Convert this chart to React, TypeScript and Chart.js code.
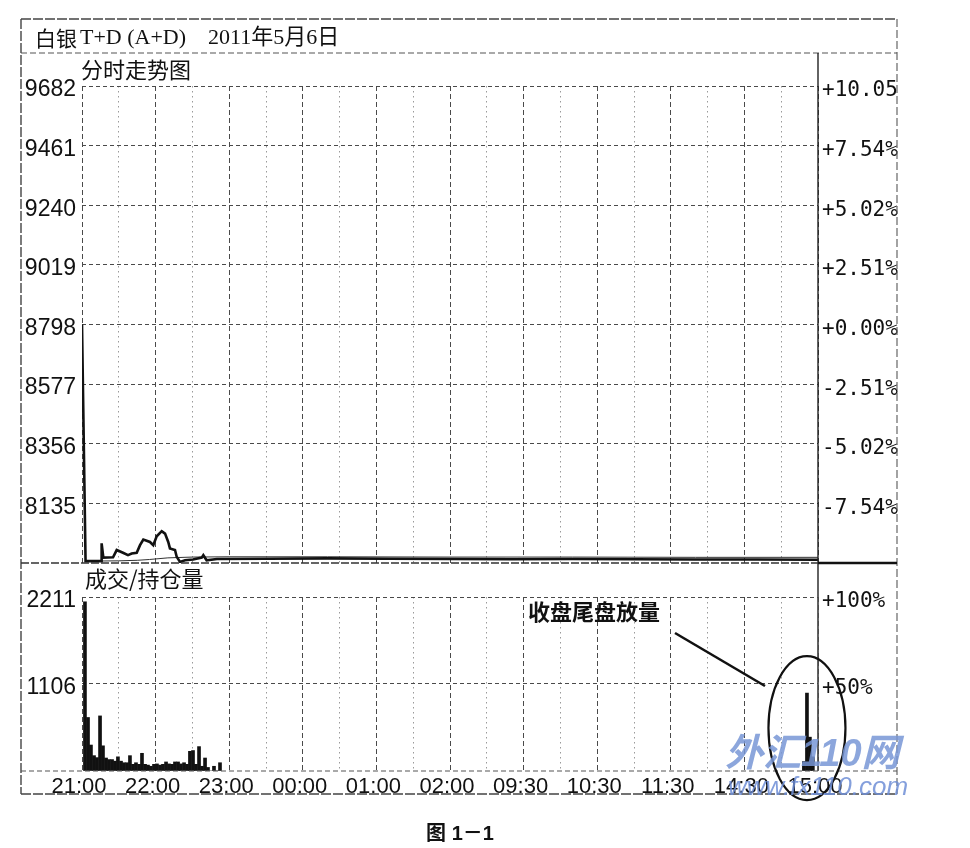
import React, { useEffect, useRef } from "react";
import { Chart, registerables } from "chart.js";

Chart.register(...registerables);

const W = 970;
const H = 848;

// ---------- layout ----------
const PLOT_LEFT = 82;
const PLOT_RIGHT = 818;
const PRICE_TOP = 86;
const PRICE_BOTTOM = 563;
const VOL_TOP = 597;
const VOL_BOTTOM = 771;
const FRAME = { left: 21, top: 19, right: 897, bottom: 794 };
const TITLE_LINE_Y = 53;

// ---------- data ----------
const timeLabels = ["21:00", "22:00", "23:00", "00:00", "01:00", "02:00", "09:30", "10:30", "11:30", "14:30", "15:00"];
const gridMinutes = [0, 30, 60, 90, 120, 150, 180, 210, 240, 270, 300, 330, 360, 390, 420, 450, 480, 510, 540, 570, 600];

const priceTicks = [9682, 9461, 9240, 9019, 8798, 8577, 8356, 8135];
const pctLabels = ["+10.05", "+7.54%", "+5.02%", "+2.51%", "+0.00%", "-2.51%", "-5.02%", "-7.54%"];
const priceAxisMin = 7914;
const priceAxisMax = 9682;

const volTicks = [2211, 1106, 0];
const volPctLabels = ["+100%", "+50%", ""];
const volAxisMax = 2211;

// minutes since 21:00 (session index) and price
const priceMinutes = [0, 2.9, 15.5, 16, 17.4, 25.3, 28.3, 33.4, 37.5, 40.5, 44.6, 47.3, 50, 55.4, 58.1, 60.9, 65, 67.7, 70.3, 71.7, 75.8, 77.2, 79.9, 84, 90.5, 97.6, 98.9, 101.6, 110, 150, 200, 250, 300, 350, 400, 450, 500, 550, 600];
const priceValues = [8798, 7921, 7921, 7987, 7934, 7935, 7962, 7952, 7943, 7949, 7952, 7980, 8001, 7992, 7980, 8013, 8032, 8023, 7992, 7968, 7962, 7937, 7918, 7924, 7927, 7934, 7943, 7924, 7929, 7930, 7931, 7930, 7929, 7928, 7929, 7928, 7927, 7927, 7926];

const avgMinutes = [3, 30, 45, 55, 70, 90, 120, 200, 300, 400, 500, 600];
const avgValues = [7921, 7922, 7924, 7927, 7933, 7936, 7937, 7937, 7936, 7936, 7935, 7935];

const volMinutes = [2.4, 4.9, 7.3, 9.8, 12.2, 14.7, 17.1, 19.6, 22, 24.5, 26.9, 29.3, 31.8, 34.2, 36.7, 39.1, 41.6, 44, 46.5, 48.9, 51.4, 53.8, 56.2, 58.7, 61.1, 63.6, 66, 68.5, 70.9, 73.4, 75.8, 78.3, 80.7, 83.2, 85.6, 88, 90.5, 92.9, 95.4, 97.8, 100.3, 102.7, 105.2, 107.6, 110.1, 112.5, 588.5, 591, 593.4, 595.8];
const volValues = [2150, 680, 330, 195, 170, 700, 320, 165, 145, 145, 125, 180, 125, 105, 105, 195, 85, 105, 85, 225, 85, 75, 60, 85, 90, 75, 85, 115, 90, 85, 115, 115, 90, 105, 85, 250, 260, 85, 310, 60, 165, 45, 0, 60, 0, 105, 120, 990, 430, 180];

// ---------- fonts ----------
const CJK = '"Noto Sans CJK SC"';
const LEFT_FONT = { family: '"Liberation Sans", Arial, sans-serif', size: 23 };
const RIGHT_FONT = { family: '"DejaVu Sans Mono", monospace', size: 21 };
const X_FONT = { family: '"Liberation Sans", Arial, sans-serif', size: 22 };

function seg(ctx: CanvasRenderingContext2D, x1: number, y1: number, x2: number, y2: number, width: number, color: string, dash: number[] = []) {
  ctx.save();
  ctx.beginPath();
  ctx.lineWidth = width;
  ctx.strokeStyle = color;
  ctx.setLineDash(dash);
  ctx.moveTo(x1, y1);
  ctx.lineTo(x2, y2);
  ctx.stroke();
  ctx.restore();
}

function text(ctx: CanvasRenderingContext2D, s: string, x: number, y: number, font: string, align: CanvasTextAlign = "left", color = "#111") {
  ctx.save();
  ctx.font = font;
  ctx.fillStyle = color;
  ctx.textAlign = align;
  ctx.textBaseline = "middle";
  ctx.fillText(s, x, y);
  ctx.restore();
}

const xGridColor = (c: any) => (c.tick && c.tick.value % 60 === 0 ? "#4a4a4a" : "#9a9a9a");
const xGridDash = (c: any) => (c.tick && c.tick.value % 60 === 0 ? [5, 3] : [1.5, 3.5]);

const pricePlugin = {
  id: "priceFrame",
  beforeDraw(chart: any) {
    const ctx = chart.ctx as CanvasRenderingContext2D;
    ctx.save();
    ctx.fillStyle = "#ffffff";
    ctx.fillRect(0, 0, W, H);
    ctx.restore();
  },
  afterDraw(chart: any) {
    const ctx = chart.ctx as CanvasRenderingContext2D;
    const a = chart.chartArea;
    // outer frame
    seg(ctx, FRAME.left, FRAME.top, FRAME.right, FRAME.top, 1.4, "#444", [10, 2]);
    seg(ctx, FRAME.left, FRAME.top, FRAME.left, FRAME.bottom, 1.4, "#444", [10, 2]);
    seg(ctx, FRAME.right, FRAME.top, FRAME.right, FRAME.bottom, 1.2, "#666", [8, 3]);
    seg(ctx, FRAME.left, FRAME.bottom, FRAME.right, FRAME.bottom, 1.4, "#444", [10, 2]);
    // title separator
    seg(ctx, FRAME.left, TITLE_LINE_Y, FRAME.right, TITLE_LINE_Y, 1.2, "#555", [6, 3]);
    // right axis line
    seg(ctx, a.right, TITLE_LINE_Y, a.right, VOL_BOTTOM, 1.4, "#222");
    // panel separator
    seg(ctx, FRAME.left, a.bottom, FRAME.right, a.bottom, 1.4, "#333", [8, 2]);
    seg(ctx, a.right, a.bottom, FRAME.right, a.bottom, 2.6, "#111");

    // texts
    const titleFont = `22px "Liberation Serif", ${CJK}, serif`;
    text(ctx, "白银", 35, 38, `21px ${CJK}`);
    text(ctx, "T+D (A+D)", 80, 38, titleFont);
    text(ctx, "2011年5月6日", 208, 38, titleFont);
    text(ctx, "分时走势图", 81, 70, `22px ${CJK}`);
    text(ctx, "成交/持仓量", 85, 579, `22px ${CJK}`);
    text(ctx, "图 1－1", 460, 834, `bold 20px "Liberation Sans", ${CJK}`, "center");
  },
};

const volPlugin = {
  id: "volDecor",
  afterDraw(chart: any) {
    const ctx = chart.ctx as CanvasRenderingContext2D;
    const a = chart.chartArea;
    const xs = chart.scales.x;
    const ys = chart.scales.y;
    // baseline across the whole frame
    seg(ctx, FRAME.left, a.bottom, FRAME.right, a.bottom, 1.2, "#555", [5, 3]);

    // annotation
    text(ctx, "收盘尾盘放量", 528, 612, `bold 22px ${CJK}`);
    seg(ctx, 675, 633, 765, 686, 2.6, "#111");
    const cx = xs.getPixelForValue(591);
    const cy = ys.getPixelForValue(545);
    ctx.save();
    ctx.beginPath();
    ctx.lineWidth = 2.2;
    ctx.strokeStyle = "#111";
    ctx.ellipse(cx, cy, 38.5, 72, 0, 0, Math.PI * 2);
    ctx.stroke();
    ctx.restore();

    // watermark
    ctx.save();
    ctx.globalAlpha = 0.85;
    ctx.fillStyle = "#7896d6";
    ctx.textBaseline = "alphabetic";
    ctx.font = `italic bold 38px "Liberation Sans", ${CJK}`;
    ctx.fillText("外汇110网", 725, 766);
    ctx.fillStyle = "#6f8ed6";
    ctx.font = 'italic 26px "Liberation Sans", sans-serif';
    ctx.fillText("www.fx110.com", 728, 795);
    ctx.restore();
  },
};

export default function App() {
  const priceRef = useRef<HTMLCanvasElement>(null);
  const volRef = useRef<HTMLCanvasElement>(null);

  useEffect(() => {
    const priceChart = new Chart(priceRef.current as HTMLCanvasElement, {
      type: "line",
      data: {
        datasets: [
          {
            data: priceMinutes.map((m, i) => ({ x: m, y: priceValues[i] })),
            borderColor: "#111",
            borderWidth: 2.6,
            pointRadius: 0,
            tension: 0,
            yAxisID: "y",
          },
          {
            data: avgMinutes.map((m, i) => ({ x: m, y: avgValues[i] })),
            borderColor: "#333",
            borderWidth: 1,
            pointRadius: 0,
            tension: 0,
            yAxisID: "y",
          },
        ],
      },
      options: {
        responsive: false,
        animation: false,
        devicePixelRatio: 1,
        events: [],
        layout: { padding: { left: 0, right: 0, top: PRICE_TOP, bottom: H - PRICE_BOTTOM } },
        plugins: { legend: { display: false }, tooltip: { enabled: false } },
        scales: {
          x: {
            type: "linear",
            min: 0,
            max: 600,
            afterFit: (s: any) => { s.height = 0; },
            afterBuildTicks: (s: any) => { s.ticks = gridMinutes.map((v) => ({ value: v })); },
            ticks: { display: false, autoSkip: false },
            grid: { color: xGridColor, lineWidth: 1, drawTicks: false },
            border: { display: false, dash: xGridDash },
          },
          y: {
            position: "left",
            min: priceAxisMin,
            max: priceAxisMax,
            afterFit: (s: any) => { s.width = PLOT_LEFT; },
            afterBuildTicks: (s: any) => { s.ticks = priceTicks.map((v) => ({ value: v })); },
            ticks: { font: LEFT_FONT, color: "#111", padding: 6, labelOffset: 4, autoSkip: false, callback: (v: any) => String(v) },
            grid: { color: "#4a4a4a", lineWidth: 1, drawTicks: false },
            border: { display: false, dash: [4, 3] },
          },
          y2: {
            position: "right",
            min: priceAxisMin,
            max: priceAxisMax,
            afterFit: (s: any) => { s.width = W - PLOT_RIGHT; },
            afterBuildTicks: (s: any) => { s.ticks = priceTicks.map((v) => ({ value: v })); },
            ticks: {
              font: RIGHT_FONT,
              color: "#111",
              padding: 4,
              labelOffset: 5,
              autoSkip: false,
              callback: (v: any) => pctLabels[priceTicks.indexOf(v)],
            },
            grid: { display: false, drawTicks: false },
            border: { display: false },
          },
        },
      } as any,
      plugins: [pricePlugin],
    });

    const volChart = new Chart(volRef.current as HTMLCanvasElement, {
      type: "bar",
      data: {
        datasets: [
          {
            data: volMinutes.map((m, i) => ({ x: m, y: volValues[i] })),
            backgroundColor: "#111",
            borderWidth: 0,
            barThickness: 3,
            grouped: false,
          } as any,
        ],
      },
      options: {
        responsive: false,
        animation: false,
        devicePixelRatio: 1,
        events: [],
        layout: { padding: { left: 0, right: 0, top: VOL_TOP, bottom: 0 } },
        plugins: { legend: { display: false }, tooltip: { enabled: false } },
        scales: {
          x: {
            type: "linear",
            min: 0,
            max: 600,
            offset: false,
            afterFit: (s: any) => { s.height = H - VOL_BOTTOM; },
            afterBuildTicks: (s: any) => { s.ticks = gridMinutes.map((v) => ({ value: v })); },
            ticks: {
              autoSkip: false,
              maxRotation: 0,
              minRotation: 0,
              font: X_FONT,
              color: "#111",
              padding: 3,
              labelOffset: -3,
              callback: (v: any) => (v % 60 === 0 ? timeLabels[v / 60] : ""),
            },
            grid: { color: xGridColor, lineWidth: 1, drawTicks: false, offset: false },
            border: { display: false, dash: xGridDash },
          },
          y: {
            position: "left",
            min: 0,
            max: volAxisMax,
            afterFit: (s: any) => { s.width = PLOT_LEFT; },
            afterBuildTicks: (s: any) => { s.ticks = volTicks.map((v) => ({ value: v })); },
            ticks: {
              font: LEFT_FONT,
              color: "#111",
              padding: 6,
              labelOffset: 4,
              autoSkip: false,
              callback: (v: any) => (v === 0 ? "" : String(v)),
            },
            grid: {
              color: (c: any) => (c.tick && c.tick.value === 0 ? "rgba(0,0,0,0)" : "#4a4a4a"),
              lineWidth: 1,
              drawTicks: false,
            },
            border: { display: false, dash: [4, 3] },
          },
          y2: {
            position: "right",
            min: 0,
            max: volAxisMax,
            afterFit: (s: any) => { s.width = W - PLOT_RIGHT; },
            afterBuildTicks: (s: any) => { s.ticks = volTicks.map((v) => ({ value: v })); },
            ticks: {
              font: RIGHT_FONT,
              color: "#111",
              padding: 4,
              labelOffset: 5,
              autoSkip: false,
              callback: (v: any) => volPctLabels[volTicks.indexOf(v)],
            },
            grid: { display: false, drawTicks: false },
            border: { display: false },
          },
        },
      } as any,
      plugins: [volPlugin],
    });

    return () => {
      priceChart.destroy();
      volChart.destroy();
    };
  }, []);

  const canvasStyle: React.CSSProperties = { position: "absolute", left: 0, top: 0, width: W, height: H };
  return (
    <div style={{ position: "absolute", left: 0, top: 0, width: W, height: H, background: "#fff" }}>
      <canvas ref={priceRef} width={W} height={H} style={canvasStyle} />
      <canvas ref={volRef} width={W} height={H} style={canvasStyle} />
    </div>
  );
}
